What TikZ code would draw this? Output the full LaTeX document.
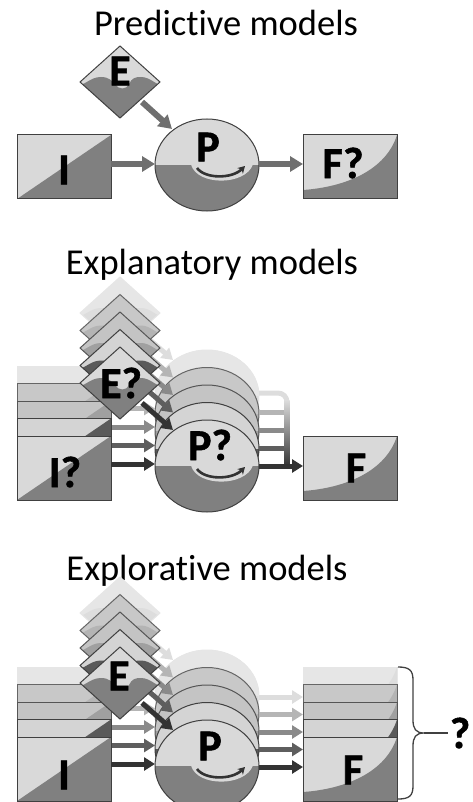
\documentclass[tikz,border=0pt]{standalone}
\usepackage{fontspec}
\setmainfont{Carlito}[Ligatures=NoCommon]
\newfontfamily\heavyfont{Carlito}[UprightFont={* Bold}, FakeBold=1.2]
\usetikzlibrary{arrows.meta}
\definecolor{LA}{HTML}{D9D9D9}
\definecolor{LB}{HTML}{D4D4D4}
\definecolor{LC}{HTML}{C4C4C4}
\definecolor{LD}{HTML}{C8C8C8}
\definecolor{LE}{HTML}{E6E6E6}
\definecolor{DA}{HTML}{808080}
\definecolor{DB}{HTML}{5A5A5A}
\definecolor{DC}{HTML}{A0A0A0}
\definecolor{DD}{HTML}{B4B4B4}
\definecolor{DE}{HTML}{DDDDDD}
\definecolor{OA}{HTML}{404040}
\definecolor{OB}{HTML}{404040}
\definecolor{OC}{HTML}{555555}
\definecolor{OD}{HTML}{666666}
\definecolor{OE}{HTML}{E6E6E6}
\definecolor{AA}{HTML}{333333}
\definecolor{AB}{HTML}{5E5E5E}
\definecolor{AC}{HTML}{8A8A8A}
\definecolor{AD}{HTML}{B5B5B5}
\definecolor{AE}{HTML}{DDDDDD}
\definecolor{Ar}{HTML}{6F6F6F}
\definecolor{Sm}{HTML}{333333}
\definecolor{Ol}{HTML}{404040}
% input rectangle: top-left x, y, light, dark, outline
\newcommand{\shpI}[5]{%
  \fill[#3] (#1,#2) rectangle ++(94,64);
  \fill[#4] (#1,#2+64) -- ++(94,-64) -- ++(0,64) -- cycle;
  \draw[#5, line width=1pt] (#1,#2) rectangle ++(94,64);
}
% output rectangle
\newcommand{\shpF}[5]{%
  \fill[#3] (#1,#2) rectangle ++(94,64);
  \fill[#4] (#1,#2+55) .. controls (#1+43,#2+52) and (#1+83,#2+35) .. (#1+94,#2) -- (#1+94,#2+64) -- (#1,#2+64) -- cycle;
  \draw[#5, line width=1pt] (#1,#2) rectangle ++(94,64);
}
% environment diamond: centre x, y
\newcommand{\shpE}[5]{%
  \begin{scope}
  \clip (#1-40,#2) -- (#1,#2-36) -- (#1+40,#2) -- (#1,#2+36) -- cycle;
  \fill[#3] (#1-40,#2-36) rectangle (#1+40,#2+36);
  \fill[#4] (#1-45,#2+4) .. controls (#1-35,#2+4) and (#1-30,#2-5) .. (#1-19,#2-5)
    .. controls (#1-11,#2-5) and (#1-8,#2-1) .. (#1-5,#2+2)
    .. controls (#1-2,#2+8) and (#1+7,#2+8) .. (#1+9,#2+2)
    .. controls (#1+12,#2-4) and (#1+15,#2-5) .. (#1+21,#2-5)
    .. controls (#1+31,#2-5) and (#1+36,#2+4) .. (#1+45,#2+4)
    -- (#1+45,#2+40) -- (#1-45,#2+40) -- cycle;
  \end{scope}
  \draw[#5, line width=1pt] (#1-40,#2) -- (#1,#2-36) -- (#1+40,#2) -- (#1,#2+36) -- cycle;
}
% process ellipse: centre x, y
\newcommand{\shpP}[5]{%
  \fill[#4] (#1,#2) ellipse [x radius=52, y radius=46];
  \begin{scope}
   \clip (#1,#2) ellipse [x radius=52, y radius=46];
   \fill[#3] (#1-53,#2-47) rectangle (#1+53,#2);
   \fill[#3] (#1-16,#2-0.5) .. controls (#1-10,#2+21) and (#1+38,#2+21) .. (#1+46,#2-0.5) -- cycle;
  \end{scope}
  \draw[#5, line width=1pt] (#1,#2) ellipse [x radius=52, y radius=46];
}
\newcommand{\smilearrow}[2]{%
  \draw[smile] (#1-10,#2+3) .. controls (#1-2,#2+14) and (#1+25,#2+14) .. (#1+38,#2+1);
}
\begin{document}
\begin{tikzpicture}[x=1pt,y=-1pt,
  ttl/.style={font=\fontsize{36.5}{40}\selectfont, anchor=base, inner sep=0pt},
  lbl/.style={font=\heavyfont\fontsize{44}{44}\selectfont, inner sep=0pt},
  fatarrow/.style={line width=6pt, draw=#1, -{Triangle[length=13pt,width=15pt]}},
  stackarrow/.style={line width=5pt, draw=#1, -{Triangle[length=11pt,width=13pt]}},
  stackline/.style={line width=5pt, draw=#1},
  smile/.style={line width=2.6pt, draw=Sm, -{Stealth[length=7pt,width=8pt]}},
]
\useasboundingbox (0,0) rectangle (473,802);

% ---------------- Panel 1: predictive ----------------
\node[ttl] (t1) at (226,36) {Predictive models};
\shpI{17}{135}{LA}{DA}{OA}
\shpE{120}{82}{LA}{DA}{OA}
\shpP{207}{165}{LA}{DA}{OA}
\smilearrow{207}{165}
\shpF{303}{135}{LA}{DA}{OA}
\coordinate (a-is) at (111,164); \coordinate (a-ie) at (155,164);
\coordinate (a-es) at (142,102); \coordinate (a-ee) at (172,129);
\coordinate (a-os) at (259,164); \coordinate (a-oe) at (303,164);
\draw[fatarrow=Ar] (a-is) -- (a-ie);
\draw[fatarrow=Ar] (a-es) -- (a-ee);
\draw[fatarrow=Ar] (a-os) -- (a-oe);
\node[lbl] (a-E) at (120,71) {E};
\node[lbl] (a-I) at (64,170) {I};
\node[lbl] (a-P) at (208,147) {P};
\node[lbl] (a-F) at (343,163) {F?};

% ---------------- Panel 2: explanatory ----------------
\node[ttl] (t2) at (212,274) {Explanatory models};
\foreach \k/\lc/\dc/\oc/\ac in {4/LE/DE/OE/AE,3/LD/DD/OD/AD,2/LC/DC/OC/AC,1/LB/DB/OB/AB,0/LA/DA/OA/AA}{
  \pgfmathsetmacro\s{17.5*\k}
  \pgfmathsetmacro\q{18.5*\k}
  \shpI{17}{436-\s}{\lc}{\dc}{\oc}
  \coordinate (b-is-\k) at (111,464-\q);
  \coordinate (b-ie-\k) at (155,464-\q);
  \draw[stackarrow=\ac] (b-is-\k) -- (b-ie-\k);
  \shpE{120}{383-\s}{\lc}{\dc}{\oc}
  \shpP{207}{466-\s}{\lc}{\dc}{\oc}
  \coordinate (b-es-\k) at (142,403-\s);
  \coordinate (b-ee-\k) at (173,430-\s);
  \draw[stackarrow=\ac] (b-es-\k) -- (b-ee-\k);
}
\smilearrow{207}{466}
\foreach \k/\ac in {3/AD,2/AC,1/AB}{
  \coordinate (b-os-\k) at (259,466-18*\k);
  \coordinate (b-oe-\k) at (287,466-18*\k);
  \draw[stackline=\ac] (b-os-\k) -- (b-oe-\k);
}
\coordinate (b-os-4) at (259,393);
\coordinate (b-oc) at (287,393);
\coordinate (b-ov) at (287,410);
\draw[stackline=AE, rounded corners=9pt] (b-os-4) -- (b-oc) -- (b-ov);
\shade[top color=AE, bottom color=AA] (284.5,400) rectangle (289.5,466);
\coordinate (b-os-0) at (259,466); \coordinate (b-oe-0) at (303,466);
\draw[stackarrow=AA] (b-os-0) -- (b-oe-0);
\shpF{303}{436}{LA}{DA}{OA}
\node[lbl] (b-E) at (121,383) {E?};
\node[lbl] (b-I) at (65,472) {I?};
\node[lbl] (b-P) at (210,445) {P?};
\node[lbl] (b-F) at (356,468) {F};

% ---------------- Panel 3: explorative ----------------
\node[ttl] (t3) at (207,580) {Explorative models};
\foreach \k/\lc/\dc/\oc/\ac in {4/LE/DE/OE/AE,3/LD/DD/OD/AD,2/LC/DC/OC/AC,1/LB/DB/OB/AB,0/LA/DA/OA/AA}{
  \pgfmathsetmacro\s{17.5*\k}
  \pgfmathsetmacro\q{18.5*\k}
  \shpI{17}{737-\s}{\lc}{\dc}{\oc}
  \coordinate (c-is-\k) at (111,764-\q);
  \coordinate (c-ie-\k) at (155,764-\q);
  \draw[stackarrow=\ac] (c-is-\k) -- (c-ie-\k);
  \shpE{120}{683-\s}{\lc}{\dc}{\oc}
  \shpP{207}{766-\s}{\lc}{\dc}{\oc}
  \coordinate (c-es-\k) at (142,703-\s);
  \coordinate (c-ee-\k) at (173,730-\s);
  \draw[stackarrow=\ac] (c-es-\k) -- (c-ee-\k);
  \coordinate (c-os-\k) at (259,767-\s);
  \coordinate (c-oe-\k) at (303,767-\s);
  \draw[stackarrow=\ac] (c-os-\k) -- (c-oe-\k);
  \shpF{303}{737-\s}{\lc}{\dc}{\oc}
}
\smilearrow{207}{766}
\node[lbl] (c-E) at (119,676) {E};
\node[lbl] (c-I) at (64,775) {I};
\node[lbl] (c-P) at (210,746) {P};
\node[lbl] (c-F) at (353,770) {F};
% brace
\draw[line width=1.3pt, draw=Ol] (398,667) .. controls (409,667) and (413,670) .. (413,680) -- (413,720)
  .. controls (413,729) and (416,733) .. (424,733)
  .. controls (416,733) and (413,737) .. (413,746) -- (413,786)
  .. controls (413,796) and (409,799) .. (398,799);
\coordinate (c-tip) at (424,733);
\node[lbl] (c-q) at (460,733) {?};
\draw[line width=1.3pt, draw=Ol] (c-tip) -- ([xshift=-2pt]c-q.west);
\end{tikzpicture}
\end{document}
